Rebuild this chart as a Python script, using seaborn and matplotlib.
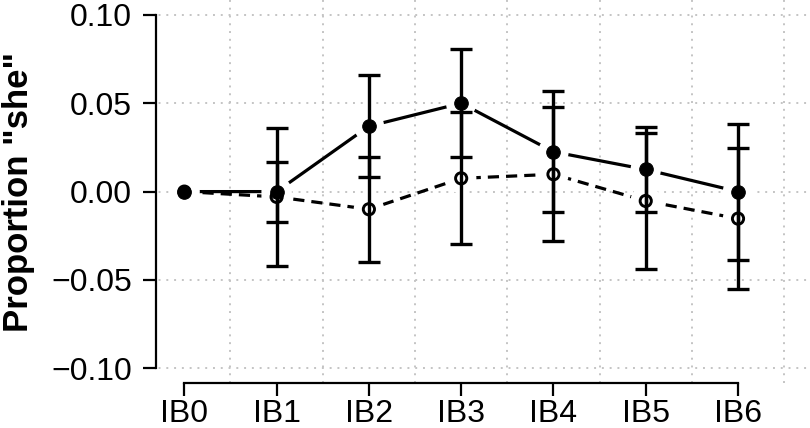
import numpy as np
import pandas as pd
import seaborn as sns
import matplotlib
matplotlib.use("agg")
import matplotlib.pyplot as plt

categories = ["IB0", "IB1", "IB2", "IB3", "IB4", "IB5", "IB6"]
solid_mean = [0.000, 0.000, 0.037, 0.050, 0.0225, 0.0125, 0.000]
solid_err = [0.000, 0.017, 0.029, 0.0305, 0.0343, 0.024, 0.0385]
dashed_mean = [0.000, -0.003, -0.010, 0.0075, 0.0098, -0.0053, -0.0153]
dashed_err = [0.000, 0.039, 0.0296, 0.0373, 0.038, 0.0387, 0.0398]
y_ticks = [-0.10, -0.05, 0.00, 0.05, 0.10]
y_tick_labels = ["\u22120.10", "\u22120.05", "0.00", "0.05", "0.10"]

pos = np.arange(len(categories))
df = pd.concat([
    pd.DataFrame({"pos": pos, "value": solid_mean, "err": solid_err, "series": "solid"}),
    pd.DataFrame({"pos": pos, "value": dashed_mean, "err": dashed_err, "series": "dashed"}),
], ignore_index=True)

sns.set_theme(style="white")
plt.rcParams["font.family"] = ["Liberation Sans", "DejaVu Sans"]

fig = plt.figure(figsize=(8.1, 4.28), dpi=100)
ax = fig.add_axes([143 / 810, 1 - 383 / 428, 667 / 810, 383 / 428])

# dotted grid, between categories vertically
grid_kw = dict(color="#c4c4c4", lw=1.4, ls=(0, (1, 3)), zorder=0)
for gx in pos + 0.5:
    ax.axvline(gx, **grid_kw)
for gy in y_ticks:
    ax.axhline(gy, **grid_kw)

n_before = len(ax.lines)
sns.lineplot(data=df, x="pos", y="value", style="series",
             dashes={"solid": "", "dashed": (3.5, 2.2)}, color="black",
             lw=2.3, legend=False, sort=False, ax=ax)
for ln in ax.lines[n_before:]:
    ln.set_zorder(1)

# white halo so lines stop short of the points
ax.scatter(df["pos"].to_numpy(), df["value"].to_numpy(), s=480,
           color="white", edgecolors="none", zorder=3)

solid = df[df.series == "solid"]
dashed = df[df.series == "dashed"]
sns.scatterplot(data=solid, x="pos", y="value", s=95, color="black",
                edgecolor="black", legend=False, ax=ax, zorder=4)
ax.scatter(dashed["pos"].to_numpy(), dashed["value"].to_numpy(), s=65,
           facecolors="none", edgecolors="black", linewidths=2.1, zorder=4)

for part in (solid, dashed):
    sub = part[part.err > 0]
    ax.errorbar(sub["pos"], sub["value"], yerr=sub["err"], fmt="none",
                ecolor="black", elinewidth=2.4, capsize=8, capthick=2.4,
                zorder=5)

ax.set_xlim(-0.448, 6.78)
ax.set_ylim(-0.1083, 0.1084)

ax.set_xticks(pos)
ax.set_xticklabels(categories)
ax.set_yticks(y_ticks)
ax.set_yticklabels(y_tick_labels)
ax.tick_params(axis="both", labelsize=23, length=9.4, width=1.6,
               color="black", labelcolor="black", direction="out")
ax.tick_params(axis="x", pad=2)
ax.tick_params(axis="y", pad=8)
ax.tick_params(left=True, bottom=True)

for s in ("top", "right"):
    ax.spines[s].set_visible(False)
ax.spines["left"].set_position(("data", -0.307))
ax.spines["left"].set_bounds(-0.10, 0.10)
ax.spines["bottom"].set_bounds(0, 6)
for s in ("left", "bottom"):
    ax.spines[s].set_linewidth(1.6)
    ax.spines[s].set_color("black")

ax.set_xlabel("")
ax.set_ylabel('Proportion "she"', fontsize=25, fontweight="bold", color="black")
ax.yaxis.set_label_coords((2 - 143) / 667, 0.5)
ax.yaxis.label.set_va("top")

fig.savefig("out.png", dpi=100)
